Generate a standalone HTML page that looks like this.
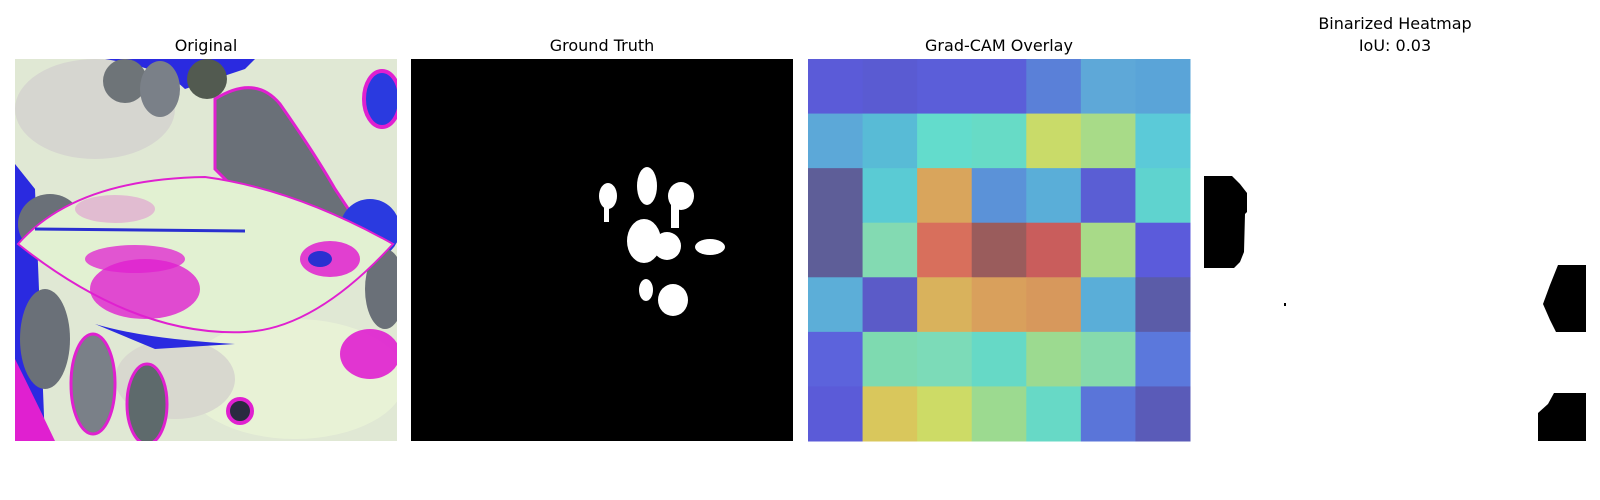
<!DOCTYPE html>
<html><head><meta charset="utf-8"><style>
html,body{margin:0;padding:0;background:#fff;width:1600px;height:500px;overflow:hidden}
svg{display:block}
text{font-family:"DejaVu Sans","Liberation Sans",sans-serif;font-size:16px;fill:#000}
</style></head><body>
<svg id="fig" width="1600" height="500" viewBox="0 0 1600 500">
<g>
<text x="206" y="51" text-anchor="middle">Original</text>
<svg x="15" y="59" width="382" height="382" viewBox="0 0 382 382">
<rect width="382" height="382" fill="#e0e8d4"/>
<ellipse cx="80" cy="50" rx="80" ry="50" fill="#d6d6d0"/>
<ellipse cx="280" cy="320" rx="110" ry="60" fill="#e8f2d6"/>
<ellipse cx="160" cy="320" rx="60" ry="40" fill="#d8d8cf"/>
<path d="M90 0 Q150 10 170 30 L200 20 L230 10 L240 0 Z" fill="#2a2ae0"/>
<ellipse cx="110" cy="22" rx="22" ry="22" fill="#6e7478"/>
<ellipse cx="145" cy="30" rx="20" ry="28" fill="#7a8088"/>
<ellipse cx="192" cy="20" rx="20" ry="20" fill="#525a50"/>
<path d="M200 40 Q240 15 265 45 Q300 95 320 130 L350 175 L300 190 L240 150 L200 110 Z" fill="#6a7078" stroke="#e020d0" stroke-width="3"/>
<ellipse cx="367" cy="40" rx="18" ry="28" fill="#2a3ae0" stroke="#e020d0" stroke-width="4"/>
<ellipse cx="355" cy="170" rx="30" ry="30" fill="#2a3ae0"/>
<ellipse cx="370" cy="230" rx="20" ry="40" fill="#6a7078"/>
<path d="M0 105 L20 130 L30 382 L0 382 Z" fill="#2a2ae0"/>
<ellipse cx="35" cy="165" rx="32" ry="30" fill="#6a7078"/>
<ellipse cx="30" cy="280" rx="25" ry="50" fill="#6a7078"/>
<path d="M0 300 Q20 340 40 382 L0 382 Z" fill="#e020d0"/>
<ellipse cx="78" cy="325" rx="22" ry="50" fill="#7a8088" stroke="#e020d0" stroke-width="3"/>
<ellipse cx="132" cy="345" rx="20" ry="40" fill="#5e6a6c" stroke="#e020d0" stroke-width="3"/>
<ellipse cx="355" cy="295" rx="30" ry="25" fill="#e020d0" opacity="0.9"/>
<ellipse cx="225" cy="352" rx="12" ry="12" fill="#2a2a40" stroke="#e020d0" stroke-width="4"/>
<path d="M3 185 Q60 120 190 118 Q280 130 378 185 Q300 270 230 273 Q120 278 3 185 Z" fill="#e2f1d2" stroke="#e020d0" stroke-width="2"/>
<ellipse cx="130" cy="230" rx="55" ry="30" fill="#e020d0" opacity="0.8"/>
<ellipse cx="120" cy="200" rx="50" ry="14" fill="#e020d0" opacity="0.75"/>
<ellipse cx="100" cy="150" rx="40" ry="14" fill="#e020d0" opacity="0.25"/>
<ellipse cx="315" cy="200" rx="30" ry="18" fill="#e020d0" opacity="0.85"/>
<ellipse cx="305" cy="200" rx="12" ry="8" fill="#2a30d0"/>
<path d="M20 170 L230 172" stroke="#2a30d0" stroke-width="3"/>
<path d="M80 265 Q130 280 220 285 L140 290 Z" fill="#2a2ae0"/>
</svg>
</g>
<g>
<text x="602" y="51" text-anchor="middle">Ground Truth</text>
<rect x="411" y="59" width="382" height="382" fill="#000"/>
<g fill="#fff">
<ellipse cx="608" cy="196" rx="9" ry="13"/><rect x="604" y="200" width="5" height="22"/>
<ellipse cx="647" cy="186" rx="10" ry="19"/>
<ellipse cx="681" cy="196" rx="13" ry="14"/><rect x="671" y="200" width="8" height="28"/>
<ellipse cx="644" cy="241" rx="17" ry="22"/><ellipse cx="667" cy="246" rx="14" ry="14"/>
<ellipse cx="710" cy="247" rx="15" ry="8"/>
<ellipse cx="646" cy="290" rx="7" ry="11"/>
<ellipse cx="673" cy="300" rx="15" ry="16"/>
</g>
</g>
<g>
<text x="999" y="51" text-anchor="middle">Grad-CAM Overlay</text>
<g id="grid"></g>
</g>
<g>
<text x="1395" y="29" text-anchor="middle">Binarized Heatmap</text>
<text x="1395" y="51" text-anchor="middle">IoU: 0.03</text>
<g fill="#000">
<path d="M1204 176 L1232 176 L1240 184 L1247 193 L1247 212 L1245 214 L1244 252 L1240 262 L1234 268 L1204 268 Z"/>
<path d="M1558 265 L1586 265 L1586 332 L1556 332 L1550 320 L1543 304 L1550 285 Z"/>
<path d="M1554 393 L1586 393 L1586 441 L1538 441 L1538 413 L1548 404 Z"/>
<rect x="1284" y="303" width="2" height="3"/>
</g>
</g>
</svg>
<script>
const gridRows = 7;
const gridCols = 7;
const cellColors = [
 ["#5b5bd8","#5a5bd2","#5b5ed9","#5b5ed9","#5a80d8","#5ea8d8","#5aa4d8"],
 ["#5ca8d8","#58bbd6","#63dccc","#67dbc6","#c9db69","#a8db88","#5bcad8"],
 ["#5e5e98","#5acbd4","#d9a55c","#5b92d8","#5aaed8","#5a5ed4","#5fd3cf"],
 ["#5e5e98","#83dab2","#d86f5c","#9a5c5c","#c95d5c","#a8da88","#5b5bdb"],
 ["#5caed8","#5b5bc8","#d9b25c","#d9a05c","#d7985c","#5aaed8","#5b5ca8"],
 ["#5c63dc","#7edab0","#7cdbb8","#66d9c6","#9cda90","#86daac","#5b78dc"],
 ["#5b5bd8","#d9c75c","#cddb66","#9cda90","#67d9c6","#5a75d9","#5a5bb8"]
];
const gx0 = 808, gy0 = 59, gSize = 382;
const xCell = c => gx0 + c * gSize / gridCols;
const yCell = r => gy0 + r * gSize / gridRows;
const g = document.getElementById('grid');
const NS = 'http://www.w3.org/2000/svg';
for (let r = 0; r < gridRows; r++) {
  for (let c = 0; c < gridCols; c++) {
    const rect = document.createElementNS(NS, 'rect');
    rect.setAttribute('x', xCell(c));
    rect.setAttribute('y', yCell(r));
    rect.setAttribute('width', xCell(c + 1) - xCell(c) + 0.5);
    rect.setAttribute('height', yCell(r + 1) - yCell(r) + 0.5);
    rect.setAttribute('fill', cellColors[r][c]);
    
    
    g.appendChild(rect);
  }
}
</script>
</body></html>
